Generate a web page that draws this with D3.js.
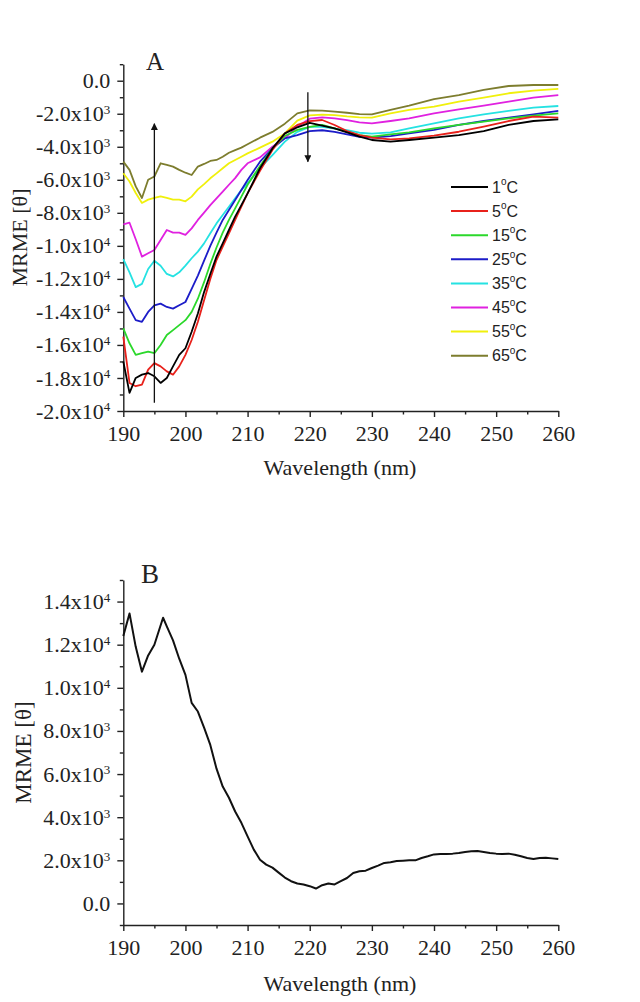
<!DOCTYPE html>
<html>
<head>
<meta charset="utf-8">
<script src="https://cdn.jsdelivr.net/npm/d3@7"></script>
<style>
  body { margin: 0; background: #fff; }
</style>
</head>
<body>
<div id="container"></div>
<script>
// ---- Panel A: CD spectra at several temperatures (MRME values in units of 10^3) ----
const wavelengthsA = [190, 191, 192, 193, 194, 195, 196, 197, 198, 199, 200, 201, 202, 203, 204, 205, 206, 207, 208, 209, 210,
  212, 214, 216, 218, 220, 222, 224, 226, 228, 230, 233, 236, 240, 244, 248, 252, 256, 260];

const tempLabels = ["1", "5", "15", "25", "35", "45", "55", "65"];
const tempColors = ["#000000", "#e8211b", "#2bd82b", "#1c1cc8", "#25e2e2", "#e021e0", "#f0f00c", "#7d7d2e"];

const mrme1 = [-17.0, -18.9, -18.0, -17.8, -17.7, -17.9, -18.3, -18.0, -17.3, -16.6, -16.2, -15.2, -14.1, -12.8, -11.7, -10.65, -9.85, -9.04, -8.23, -7.53, -6.82,
  -5.3, -4.1, -3.19, -2.82, -2.55, -2.72, -2.88, -3.13, -3.39, -3.59, -3.69, -3.59, -3.45, -3.29, -3.05, -2.68, -2.44, -2.34];
const mrme5 = [-15.5, -18.3, -18.5, -18.4, -17.5, -17.1, -17.3, -17.6, -17.8, -17.3, -16.6, -15.7, -14.6, -13.3, -12.0, -10.86, -10.05, -9.24, -8.43, -7.63, -6.82,
  -5.45, -4.2, -3.19, -2.68, -2.45, -2.38, -2.68, -3.05, -3.29, -3.45, -3.55, -3.49, -3.33, -3.09, -2.78, -2.44, -2.18, -2.24];
const mrme15 = [-15.0, -15.9, -16.6, -16.5, -16.4, -16.5, -16.0, -15.4, -15.1, -14.8, -14.5, -14.0, -13.2, -12.2, -11.1, -10.1, -9.2, -8.43, -7.73, -7.02, -6.3,
  -5.16, -4.1, -3.35, -2.98, -2.8, -2.68, -2.88, -3.09, -3.29, -3.39, -3.25, -3.13, -2.88, -2.68, -2.48, -2.28, -2.12, -1.98];
const mrme25 = [-13.1, -13.8, -14.5, -14.6, -14.0, -13.6, -13.5, -13.7, -13.8, -13.6, -13.4, -12.6, -11.8, -10.9, -10.0, -9.2, -8.43, -7.83, -7.22, -6.62, -6.01,
  -4.9, -4.1, -3.49, -3.29, -3.05, -3.0, -3.1, -3.25, -3.4, -3.45, -3.35, -3.19, -2.98, -2.68, -2.44, -2.24, -2.04, -1.83];
const mrme35 = [-10.8, -11.6, -12.5, -12.3, -11.4, -10.9, -11.2, -11.7, -11.85, -11.6, -11.2, -10.75, -10.35, -9.85, -9.24, -8.64, -8.13, -7.63, -7.12, -6.62, -6.2,
  -5.3, -4.5, -3.69, -3.1, -2.8, -2.8, -2.9, -3.0, -3.15, -3.2, -3.13, -2.88, -2.58, -2.28, -2.04, -1.83, -1.63, -1.53];
const mrme45 = [-8.7, -8.6, -9.6, -10.65, -10.45, -10.25, -9.65, -9.04, -9.2, -9.2, -9.34, -8.94, -8.43, -7.99, -7.53, -7.12, -6.72, -6.3, -5.9, -5.4, -5.0,
  -4.64, -4.0, -3.49, -2.78, -2.3, -2.22, -2.28, -2.38, -2.52, -2.58, -2.44, -2.28, -1.98, -1.74, -1.51, -1.27, -1.03, -0.87];
const mrme55 = [-5.6, -6.1, -6.8, -7.4, -7.2, -7.1, -7.0, -7.1, -7.2, -7.2, -7.3, -7.02, -6.58, -6.26, -5.91, -5.61, -5.3, -5.0, -4.8, -4.6, -4.4,
  -4.05, -3.69, -3.19, -2.42, -2.1, -2.05, -2.08, -2.16, -2.22, -2.24, -1.98, -1.77, -1.57, -1.27, -1.03, -0.76, -0.6, -0.5];
const mrme65 = [-4.9, -5.4, -6.4, -7.1, -6.0, -5.8, -5.0, -5.1, -5.2, -5.4, -5.57, -5.71, -5.2, -5.04, -4.86, -4.8, -4.6, -4.36, -4.2, -4.05, -3.85,
  -3.45, -3.1, -2.6, -1.98, -1.8, -1.81, -1.87, -1.94, -2.02, -2.04, -1.77, -1.51, -1.11, -0.87, -0.56, -0.32, -0.26, -0.26];
const seriesA = [mrme1, mrme5, mrme15, mrme25, mrme35, mrme45, mrme55, mrme65];

// arrows in panel A: [wavelength, from value, to value] (10^3 units)
const arrowUp = [195, -19.5, -2.6];
const arrowDown = [219.7, -0.7, -4.9];

// ---- Panel B: difference spectrum (MRME, plain units) ----
const wavelengthsB = [190, 191, 192, 193, 194, 195, 196.4, 197, 198, 199, 200, 201, 202, 203, 204, 205, 206, 207, 208, 209, 210,
  211, 212, 213, 214, 215, 216, 217, 218, 219, 220, 221, 222, 223, 224, 225, 226, 227, 228, 229, 230,
  231, 232, 233, 234, 235, 236, 237, 238, 239, 240, 241, 242, 243, 244, 245, 246, 247, 248, 249, 250,
  251, 252, 253, 254, 255, 256, 257, 258, 259, 260];
const mrmeB = [12400, 13450, 11900, 10750, 11500, 12000, 13250, 12850, 12200, 11350, 10600, 9300, 8900, 8150, 7350, 6250, 5420, 4900, 4265, 3740, 3110,
  2495, 2030, 1800, 1660, 1430, 1200, 1030, 925, 880, 800, 690, 845, 925, 880, 1030, 1180, 1415, 1490, 1520, 1645,
  1755, 1880, 1910, 1970, 1985, 2000, 2000, 2110, 2185, 2275, 2290, 2290, 2310, 2340, 2385, 2415, 2430, 2385, 2340, 2310,
  2290, 2310, 2260, 2185, 2110, 2060, 2110, 2120, 2090, 2060];

// ---- ticks ----
const xTicks = [190, 200, 210, 220, 230, 240, 250, 260];
const xMinor = [195, 205, 215, 225, 235, 245, 255];
const yTicksA = [0, -2, -4, -6, -8, -10, -12, -14, -16, -18, -20];
const yMinorA = [1, -1, -3, -5, -7, -9, -11, -13, -15, -17, -19];
const yTicksB = [0, 2000, 4000, 6000, 8000, 10000, 12000, 14000];
const yMinorB = [-1000, 1000, 3000, 5000, 7000, 9000, 11000, 13000, 15000];

// ---- layout ----
const width = 640;
const height = 1002;
const marginLeft = 123.3;
const plotRight = 558.3;
const serif = "'Liberation Serif', 'Times New Roman', serif";
const sans = "'Liberation Sans', Arial, sans-serif";
const labelSize = 22;

const svg = d3.create("svg").attr("width", width).attr("height", height)
  .style("background", "#fff");

svg.append("defs").append("marker")
  .attr("id", "head")
  .attr("viewBox", "0 0 10 10")
  .attr("refX", 9).attr("refY", 5)
  .attr("markerWidth", 10).attr("markerHeight", 7)
  .attr("markerUnits", "userSpaceOnUse")
  .attr("orient", "auto")
  .append("path").attr("d", "M0,0L10,5L0,10z").attr("fill", "#111");

const x = d3.scaleLinear().domain([190, 260]).range([marginLeft, plotRight]);

function sciA(v) {
  if (v === 0) return ["0.0", null];
  if (Math.abs(v) >= 10) return [(v / 10).toFixed(1) + "x10", "4"];
  return [v.toFixed(1) + "x10", "3"];
}
function sciB(v) {
  if (v === 0) return ["0.0", null];
  if (Math.abs(v) >= 10000) return [(v / 10000).toFixed(1) + "x10", "4"];
  return [(v / 1000).toFixed(1) + "x10", "3"];
}

function drawAxes(y, yMajor, yMinor, fmt, bottom) {
  const g = svg.append("g");
  // x axis
  const gx = g.append("g").attr("transform", `translate(0,${bottom})`);
  gx.call(d3.axisBottom(x).tickValues(xTicks).tickSize(6).tickSizeOuter(0).tickPadding(8).tickFormat(d3.format("d")));
  gx.selectAll(".tick text").attr("font-family", serif).attr("font-size", labelSize).attr("fill", "#222");
  gx.append("g").call(d3.axisBottom(x).tickValues(xMinor).tickSize(3.5).tickFormat(""))
    .select(".domain").remove();

  // y axis
  const gy = g.append("g").attr("transform", `translate(${marginLeft},0)`);
  gy.call(d3.axisLeft(y).tickValues(yMajor).tickSize(6).tickSizeOuter(0).tickPadding(7));
  gy.selectAll(".tick text").each(function (d) {
    const [main, sup] = fmt(d);
    const t = d3.select(this).text(main)
      .attr("font-family", serif).attr("font-size", labelSize).attr("fill", "#222");
    if (sup) t.append("tspan").attr("dy", "-0.55em").attr("font-size", 13).text(sup);
  });
  gy.append("g").call(d3.axisLeft(y).tickValues(yMinor).tickSize(3.5).tickFormat(""))
    .select(".domain").remove();

  g.selectAll(".domain, .tick line").attr("stroke", "#222").attr("stroke-width", 1.4);
  return g;
}

// ================= Panel A =================
const yA = d3.scaleLinear().domain([-20, 1]).range([411, 64.2]);
drawAxes(yA, yTicksA, yMinorA, sciA, 411);

const lineA = d3.line().x(d => x(d[0])).y(d => yA(d[1]));
const gA = svg.append("g");
for (let i = seriesA.length - 1; i >= 0; i--) {
  gA.append("path")
    .attr("d", lineA(wavelengthsA.map((w, j) => [w, seriesA[i][j]])))
    .attr("fill", "none")
    .attr("stroke", tempColors[i])
    .attr("stroke-width", 1.8)
    .attr("stroke-linejoin", "round");
}

// arrows
for (const a of [arrowUp, arrowDown]) {
  svg.append("line")
    .attr("x1", x(a[0])).attr("x2", x(a[0]))
    .attr("y1", yA(a[1])).attr("y2", yA(a[2]))
    .attr("stroke", "#111").attr("stroke-width", 1.3)
    .attr("marker-end", "url(#head)");
}

// legend
const legend = svg.append("g").attr("font-family", sans).attr("font-size", 16).attr("fill", "#222");
tempLabels.forEach((t, i) => {
  const ly = 187 + i * 24.1;
  legend.append("line").attr("x1", 451).attr("x2", 488).attr("y1", ly).attr("y2", ly)
    .attr("stroke", tempColors[i]).attr("stroke-width", 2);
  const tx = legend.append("text").attr("x", 492).attr("y", ly).attr("dy", "0.36em");
  tx.append("tspan").text(t);
  tx.append("tspan").attr("font-size", 10).attr("dy", "-0.75em").text("o");
  tx.append("tspan").attr("dy", "0.47em").text("C");
});

svg.append("text").attr("x", 155).attr("y", 70).attr("text-anchor", "middle")
  .attr("font-family", serif).attr("font-size", 25).attr("fill", "#222").text("A");
svg.append("text").attr("x", 340).attr("y", 475).attr("text-anchor", "middle")
  .attr("font-family", serif).attr("font-size", labelSize).attr("fill", "#222").text("Wavelength (nm)");
svg.append("text").attr("transform", `translate(27,${(64 + 411) / 2}) rotate(-90)`).attr("text-anchor", "middle")
  .attr("font-family", serif).attr("font-size", labelSize).attr("fill", "#222").text("MRME [θ]");

// ================= Panel B =================
const yB = d3.scaleLinear().domain([-1000, 15000]).range([925, 580]);
drawAxes(yB, yTicksB, yMinorB, sciB, 925);

const lineB = d3.line().x(d => x(d[0])).y(d => yB(d[1]));
svg.append("path")
  .attr("d", lineB(wavelengthsB.map((w, j) => [w, mrmeB[j]])))
  .attr("fill", "none").attr("stroke", "#111").attr("stroke-width", 2)
  .attr("stroke-linejoin", "round");

svg.append("text").attr("x", 150).attr("y", 583).attr("text-anchor", "middle")
  .attr("font-family", serif).attr("font-size", 27).attr("fill", "#222").text("B");
svg.append("text").attr("x", 340).attr("y", 991).attr("text-anchor", "middle")
  .attr("font-family", serif).attr("font-size", labelSize).attr("fill", "#222").text("Wavelength (nm)");
svg.append("text").attr("transform", `translate(31,${(580 + 925) / 2}) rotate(-90)`).attr("text-anchor", "middle")
  .attr("font-family", serif).attr("font-size", 23).attr("fill", "#222").text("MRME [θ]");

document.getElementById("container").append(svg.node());
</script>
</body>
</html>
